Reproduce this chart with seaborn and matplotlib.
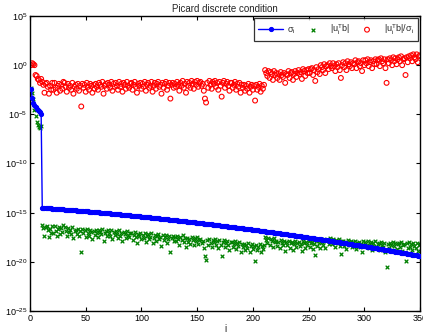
import numpy as np
import pandas as pd
import matplotlib
matplotlib.use("Agg")
import matplotlib.pyplot as plt
import seaborn as sns
from matplotlib.ticker import FixedLocator, NullLocator

# log10 of singular values sigma_i, i = 1..350
sigma_log = [
    -2.40, -3.30, -3.80, -4.10, -4.30, -4.50, -4.60, -4.70, -4.80, -4.95,
    -14.50, -14.51, -14.52, -14.53, -14.54, -14.54, -14.55, -14.56, -14.57, -14.58,
    -14.59, -14.60, -14.61, -14.62, -14.63, -14.63, -14.64, -14.65, -14.66, -14.67,
    -14.68, -14.69, -14.70, -14.71, -14.72, -14.72, -14.73, -14.74, -14.75, -14.76,
    -14.77, -14.78, -14.79, -14.80, -14.81, -14.82, -14.83, -14.84, -14.85, -14.86,
    -14.87, -14.88, -14.89, -14.90, -14.91, -14.92, -14.93, -14.94, -14.95, -14.96,
    -14.97, -14.98, -14.99, -15.00, -15.01, -15.02, -15.03, -15.04, -15.05, -15.06,
    -15.07, -15.08, -15.09, -15.10, -15.11, -15.12, -15.13, -15.14, -15.15, -15.17,
    -15.18, -15.19, -15.20, -15.21, -15.22, -15.23, -15.24, -15.25, -15.26, -15.28,
    -15.29, -15.30, -15.31, -15.32, -15.34, -15.35, -15.36, -15.37, -15.38, -15.40,
    -15.41, -15.42, -15.43, -15.44, -15.46, -15.47, -15.48, -15.49, -15.50, -15.52,
    -15.53, -15.54, -15.55, -15.56, -15.58, -15.59, -15.60, -15.61, -15.62, -15.64,
    -15.65, -15.66, -15.67, -15.68, -15.70, -15.71, -15.72, -15.73, -15.74, -15.76,
    -15.77, -15.78, -15.80, -15.81, -15.82, -15.83, -15.85, -15.86, -15.87, -15.89,
    -15.90, -15.91, -15.93, -15.94, -15.95, -15.97, -15.98, -15.99, -16.01, -16.03,
    -16.04, -16.05, -16.07, -16.08, -16.09, -16.11, -16.12, -16.13, -16.15, -16.16,
    -16.17, -16.18, -16.20, -16.21, -16.23, -16.24, -16.25, -16.27, -16.28, -16.30,
    -16.31, -16.32, -16.34, -16.35, -16.37, -16.38, -16.39, -16.41, -16.42, -16.44,
    -16.45, -16.47, -16.48, -16.50, -16.51, -16.53, -16.54, -16.55, -16.57, -16.59,
    -16.60, -16.62, -16.63, -16.65, -16.66, -16.68, -16.69, -16.71, -16.72, -16.74,
    -16.75, -16.77, -16.78, -16.80, -16.81, -16.83, -16.84, -16.86, -16.87, -16.89,
    -16.90, -16.92, -16.93, -16.95, -16.96, -16.98, -17.00, -17.01, -17.03, -17.04,
    -17.06, -17.08, -17.09, -17.11, -17.12, -17.14, -17.16, -17.17, -17.19, -17.21,
    -17.22, -17.24, -17.25, -17.27, -17.29, -17.30, -17.32, -17.34, -17.35, -17.37,
    -17.39, -17.40, -17.42, -17.44, -17.45, -17.47, -17.49, -17.50, -17.52, -17.54,
    -17.55, -17.57, -17.59, -17.60, -17.62, -17.64, -17.66, -17.67, -17.69, -17.71,
    -17.72, -17.74, -17.76, -17.78, -17.79, -17.81, -17.83, -17.85, -17.86, -17.88,
    -17.90, -17.92, -17.94, -17.95, -17.97, -17.99, -18.01, -18.03, -18.04, -18.06,
    -18.08, -18.10, -18.12, -18.13, -18.15, -18.17, -18.19, -18.21, -18.22, -18.24,
    -18.26, -18.28, -18.30, -18.32, -18.33, -18.35, -18.37, -18.39, -18.41, -18.42,
    -18.44, -18.46, -18.48, -18.50, -18.52, -18.54, -18.55, -18.57, -18.59, -18.61,
    -18.63, -18.65, -18.67, -18.69, -18.71, -18.73, -18.74, -18.76, -18.78, -18.80,
    -18.82, -18.84, -18.86, -18.88, -18.90, -18.92, -18.94, -18.96, -18.98, -19.00,
    -19.02, -19.04, -19.06, -19.08, -19.10, -19.12, -19.14, -19.16, -19.18, -19.20,
    -19.22, -19.24, -19.26, -19.28, -19.30, -19.32, -19.34, -19.36, -19.38, -19.40,
]

# log10 of |u_i^T b|
utb_log = [
    -2.3, -2.8, -3.4, -4.6, -5.2, -5.8, -6.1, -6.3, -6.4, -6.2,
    -16.3, -16.6, -17.4, -16.5, -16.4, -16.8, -17.5, -16.7, -17.1, -16.4,
    -17.1, -16.4, -16.9, -17.4, -16.7, -16.5, -17.2, -16.6, -17.0, -16.3,
    -16.5, -16.9, -17.4, -16.6, -17.0, -16.8, -17.2, -16.5, -17.6, -16.9,
    -16.8, -17.2, -16.7, -17.4, -16.9, -19.0, -16.7, -17.1, -16.8, -17.5,
    -16.7, -17.1, -17.4, -16.8, -17.0, -17.7, -16.9, -17.3, -16.8, -17.1,
    -17.5, -16.8, -17.0, -17.2, -16.7, -17.9, -17.1, -16.9, -17.4, -16.8,
    -17.1, -17.4, -16.8, -17.7, -17.0, -17.3, -16.9, -17.2, -17.6, -16.8,
    -17.4, -17.1, -17.9, -17.0, -17.2, -17.6, -16.9, -17.3, -17.5, -17.1,
    -17.1, -17.8, -17.3, -17.0, -17.5, -18.1, -17.2, -17.4, -17.1, -17.7,
    -17.3, -17.6, -17.1, -18.0, -17.4, -17.2, -17.7, -17.5, -17.1, -18.1,
    -17.6, -17.3, -17.9, -17.4, -17.2, -17.7, -17.5, -18.4, -17.3, -17.8,
    -17.5, -17.3, -18.1, -17.7, -17.4, -19.0, -17.6, -17.4, -17.9, -17.5,
    -17.9, -17.4, -17.7, -18.3, -17.5, -17.8, -17.3, -18.0, -17.6, -18.5,
    -17.6, -18.0, -17.7, -18.2, -17.5, -17.8, -18.3, -17.6, -17.9, -17.5,
    -18.2, -17.8, -17.7, -18.1, -17.9, -18.6, -19.4, -19.8, -17.8, -18.3,
    -17.7, -18.1, -18.5, -17.8, -18.0, -17.7, -18.3, -17.9, -18.6, -17.8,
    -18.3, -19.4, -18.0, -17.8, -18.5, -18.1, -17.9, -18.3, -18.8, -18.0,
    -18.0, -18.5, -18.2, -17.9, -18.7, -18.1, -18.4, -18.0, -19.0, -18.2,
    -18.5, -18.2, -18.8, -18.3, -18.6, -18.1, -19.0, -18.4, -18.2, -18.7,
    -18.4, -19.9, -18.3, -18.8, -18.5, -18.2, -19.0, -18.4, -18.7, -18.3,
    -17.5, -17.8, -18.1, -17.6, -18.3, -17.7, -17.9, -18.5, -17.6, -18.0,
    -17.9, -18.4, -18.0, -18.6, -17.8, -18.1, -18.3, -17.9, -18.9, -18.0,
    -18.3, -17.9, -18.6, -18.1, -18.0, -18.8, -18.2, -17.9, -18.5, -18.1,
    -18.0, -18.4, -18.2, -18.9, -17.9, -18.1, -18.6, -18.0, -18.3, -17.9,
    -18.5, -18.1, -18.0, -18.7, -18.2, -19.3, -17.9, -18.4, -18.1, -18.6,
    -17.8, -18.0, -18.3, -17.7, -18.6, -17.9, -17.8, -18.2, -17.6, -17.9,
    -18.2, -17.7, -18.0, -18.5, -17.8, -18.1, -17.7, -18.4, -19.2, -17.9,
    -17.9, -18.4, -18.0, -18.7, -17.8, -18.1, -18.3, -17.9, -18.5, -18.0,
    -18.3, -17.9, -18.7, -18.1, -18.0, -18.5, -18.2, -19.0, -17.9, -18.4,
    -18.0, -18.3, -17.9, -18.6, -18.2, -18.0, -18.8, -18.1, -18.4, -17.9,
    -18.6, -18.2, -18.1, -18.8, -18.0, -18.3, -18.5, -18.1, -19.0, -20.5,
    -18.2, -18.6, -18.1, -18.3, -18.8, -18.0, -18.4, -18.1, -18.7, -18.2,
    -18.1, -18.5, -18.0, -18.9, -18.3, -18.2, -19.9, -18.1, -18.6, -18.0,
    -18.5, -18.2, -18.8, -18.1, -18.4, -18.6, -18.1, -18.9, -18.3, -18.2,
]

# log10 of |u_i^T b| / sigma_i
ratio_log = [
    0.0, 0.2, 0.1, 0.0, -1.0, -1.1, -1.4, -1.5, -1.8, -1.4,
    -1.7, -2.0, -2.8, -1.9, -1.8, -2.2, -2.9, -2.1, -2.5, -1.8,
    -2.5, -1.8, -2.3, -2.8, -2.1, -1.9, -2.6, -2.0, -2.4, -1.7,
    -1.8, -2.2, -2.7, -1.9, -2.3, -2.1, -2.5, -1.8, -2.9, -2.2,
    -2.0, -2.4, -1.9, -2.6, -2.1, -4.2, -1.9, -2.3, -2.0, -2.7,
    -1.8, -2.2, -2.5, -1.9, -2.1, -2.8, -2.0, -2.4, -1.9, -2.2,
    -2.5, -1.8, -2.0, -2.2, -1.7, -2.9, -2.1, -1.9, -2.4, -1.8,
    -2.0, -2.3, -1.7, -2.6, -1.9, -2.2, -1.8, -2.1, -2.5, -1.7,
    -2.2, -1.9, -2.7, -1.8, -2.0, -2.4, -1.7, -2.1, -2.3, -1.9,
    -1.8, -2.5, -2.0, -1.7, -2.2, -2.8, -1.9, -2.1, -1.8, -2.4,
    -1.9, -2.2, -1.7, -2.6, -2.0, -1.8, -2.3, -2.1, -1.7, -2.7,
    -2.1, -1.8, -2.4, -1.9, -1.7, -2.2, -2.0, -2.9, -1.8, -2.3,
    -1.9, -1.7, -2.5, -2.1, -1.8, -3.4, -2.0, -1.8, -2.3, -1.9,
    -2.2, -1.7, -2.0, -2.6, -1.8, -2.1, -1.6, -2.3, -1.9, -2.8,
    -1.7, -2.1, -1.8, -2.3, -1.6, -1.9, -2.4, -1.7, -2.0, -1.6,
    -2.2, -1.8, -1.7, -2.1, -1.9, -2.6, -3.4, -3.8, -1.8, -2.3,
    -1.6, -2.0, -2.4, -1.7, -1.9, -1.6, -2.2, -1.8, -2.5, -1.7,
    -2.1, -3.2, -1.8, -1.6, -2.3, -1.9, -1.7, -2.1, -2.6, -1.8,
    -1.8, -2.3, -2.0, -1.7, -2.5, -1.9, -2.2, -1.8, -2.8, -2.0,
    -2.3, -2.0, -2.6, -2.1, -2.4, -1.9, -2.8, -2.2, -2.0, -2.5,
    -2.1, -3.6, -2.0, -2.5, -2.2, -1.9, -2.7, -2.1, -2.4, -2.0,
    -0.5, -0.8, -1.1, -0.6, -1.3, -0.7, -0.9, -1.5, -0.6, -1.0,
    -0.8, -1.3, -0.9, -1.5, -0.7, -1.0, -1.2, -0.8, -1.8, -0.9,
    -1.0, -0.6, -1.3, -0.8, -0.7, -1.5, -0.9, -0.6, -1.2, -0.8,
    -0.5, -0.9, -0.7, -1.4, -0.4, -0.6, -1.1, -0.5, -0.8, -0.4,
    -0.8, -0.4, -0.3, -1.0, -0.5, -1.6, -0.2, -0.7, -0.4, -0.9,
    0.0, -0.2, -0.5, 0.1, -0.8, -0.1, 0.0, -0.4, 0.2, -0.1,
    -0.3, 0.2, -0.1, -0.6, 0.1, -0.2, 0.2, -0.5, -1.3, 0.0,
    0.3, -0.2, 0.2, -0.5, 0.4, 0.1, -0.1, 0.3, -0.3, 0.2,
    0.1, 0.5, -0.3, 0.3, 0.4, -0.1, 0.2, -0.6, 0.5, 0.0,
    0.5, 0.2, 0.6, -0.1, 0.3, 0.5, -0.3, 0.4, 0.1, 0.6,
    0.1, 0.5, 0.6, -0.1, 0.7, 0.4, 0.2, 0.6, -0.3, -1.8,
    0.6, 0.2, 0.7, 0.5, 0.0, 0.8, 0.4, 0.7, 0.1, 0.6,
    0.8, 0.4, 0.9, 0.0, 0.6, 0.7, -1.0, 0.8, 0.3, 0.9,
    0.7, 1.0, 0.4, 1.1, 0.8, 0.6, 1.1, 0.3, 0.9, 1.0,
]

x_ticks = [0, 50, 100, 150, 200, 250, 300, 350]
y_exponents = [5, 0, -5, -10, -15, -20, -25]
title_text = "Picard discrete condition"
x_label = "i"
legend_labels = [r"$\sigma_i$", r"$|u_i^Tb|$", r"$|u_i^Tb|/\sigma_i$"]

idx = np.arange(1, len(sigma_log) + 1)
df = pd.DataFrame({
    "i": idx,
    "sigma": 10.0 ** np.array(sigma_log),
    "utb": 10.0 ** np.array(utb_log),
    "ratio": 10.0 ** np.array(ratio_log),
})

sns.set_style("ticks")
plt.rcParams["font.family"] = ["Liberation Sans", "DejaVu Sans"]
plt.rcParams["mathtext.fontset"] = "custom"
plt.rcParams["mathtext.rm"] = "Liberation Sans"
plt.rcParams["mathtext.it"] = "Liberation Sans:italic"
plt.rcParams["mathtext.default"] = "regular"

fig = plt.figure(figsize=(4.23, 3.33), dpi=100)
fig.patch.set_facecolor("white")
ax = fig.add_axes([30 / 423, 22 / 333, 390 / 423, 295 / 333])

sns.lineplot(data=df, x="i", y="sigma", ax=ax, color=(0, 0, 1), linewidth=1.0,
             marker=".", markersize=6, markeredgecolor=(0, 0, 1),
             label=legend_labels[0], zorder=3)
sns.scatterplot(data=df, x="i", y="utb", ax=ax, marker="x", color=(0, 0.5, 0),
                s=7, linewidth=0.9, label=legend_labels[1], zorder=2)
sns.scatterplot(data=df, x="i", y="ratio", ax=ax, marker="o", facecolors="none",
                edgecolor=(1, 0, 0), s=12, linewidth=0.8, label=legend_labels[2],
                zorder=2)

ax.set_yscale("log")
ax.set_xlim(0, 350)
ax.set_ylim(1e-25, 1e5)
ax.xaxis.set_major_locator(FixedLocator(x_ticks))
ax.set_xticklabels([str(t) for t in x_ticks])
ax.yaxis.set_major_locator(FixedLocator([10.0 ** e for e in y_exponents]))
ax.set_yticklabels([r"$10^{%d}$" % e for e in y_exponents])
ax.yaxis.set_minor_locator(NullLocator())
ax.xaxis.set_minor_locator(NullLocator())

ax.tick_params(which="major", direction="in", length=3, width=0.8,
               top=True, right=True, labelsize=6.5, pad=2, colors="black")
for sp in ax.spines.values():
    sp.set_visible(True)
    sp.set_linewidth(1.0)
    sp.set_color("black")

ax.set_title(title_text, fontsize=7, pad=3)
ax.set_xlabel(x_label, fontsize=7, labelpad=1)
ax.set_ylabel("")

leg = ax.legend(loc="upper right", ncol=3, fontsize=6.5, frameon=True,
                fancybox=False, edgecolor="black", borderaxespad=0.25,
                handlelength=2.8, columnspacing=0.5, handletextpad=0.45,
                borderpad=0.45, markerscale=1.0)
leg.get_frame().set_linewidth(0.9)

fig.savefig("out.png", dpi=100, facecolor="white")
